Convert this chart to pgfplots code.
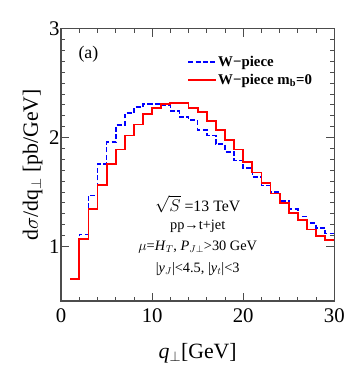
\documentclass[border=0pt]{standalone}
\usepackage{fontspec}
\setmainfont{Liberation Serif}
\usepackage{pgfplots}
\pgfplotsset{compat=1.18}
\begin{document}
\begin{tikzpicture}[x=1bp,y=1bp]
\begin{axis}[
  at={(0,0)}, anchor=south west,
  scale only axis, width=276bp, height=275bp,
  xmin=0, xmax=30, ymin=0.5, ymax=3,
  xtick={0,10,20,30}, minor x tick num=4,
  ytick={1,2,3}, minor y tick num=9,
  tick pos=both, tick align=inside,
  major tick length=8bp, minor tick length=4bp,
  axis line style={draw=black!70, line width=1.2bp},
  every tick/.style={draw=black!70, line width=0.9bp},
  /pgf/number format/assume math mode=true,
  ticklabel style={font=\fontsize{21bp}{23bp}\selectfont},
  xticklabel style={yshift=-4bp},
  yticklabel style={xshift=2bp},
  xlabel={\textit{q}$_\perp$[GeV]},
  ylabel={d$\sigma$/dq$_\perp$ [pb/GeV]},
  label style={font=\fontsize{22bp}{24bp}\selectfont},
  xlabel style={at={(axis description cs:0.5,0)}, anchor=base, yshift=-57.7bp},
  ylabel style={at={(axis description cs:-0.104,0.5)}, anchor=center},
  legend style={draw=none, fill=none, at={(axis description cs:0.461,0.905)}, anchor=north west,
    font=\fontsize{15bp}{17bp}\selectfont\bfseries, row sep=3bp, inner sep=0pt,
    nodes={inner sep=1.5bp}},
  legend cell align=left,
  legend image code/.code={\draw[#1] (0bp,0bp) -- (28bp,0bp);},
]
\addplot[const plot, blue, line width=1.6bp, dash pattern=on 5bp off 2.5bp] coordinates {
(1,0.70) (2,1.11) (3,1.47) (4,1.76) (5,1.957) (6,2.115) (7,2.227) (8,2.28) (9,2.31) (10,2.31)
(11,2.30) (12,2.245) (13,2.19) (14,2.16) (15,2.07) (16,2.02) (17,1.94) (18,1.87) (19,1.79) (20,1.72)
(21,1.64) (22,1.56) (23,1.50) (24,1.42) (25,1.345) (26,1.275) (27,1.215) (28,1.17) (29,1.12) (30,1.12)};
\addlegendentry{W−piece}
\addplot[const plot, red, line width=1.8bp] coordinates {
(1,0.70) (2,1.07) (3,1.347) (4,1.564) (5,1.76) (6,1.89) (7,2.02) (8,2.12) (9,2.22) (10,2.27)
(11,2.31) (12,2.317) (13,2.317) (14,2.27) (15,2.236) (16,2.15) (17,2.07) (18,1.98) (19,1.89) (20,1.777)
(21,1.68) (22,1.585) (23,1.487) (24,1.397) (25,1.307) (26,1.243) (27,1.157) (28,1.10) (29,1.06) (30,1.06)};
\addlegendentry{W−piece m\textsubscript{b}=0}
\node[font=\fontsize{18bp}{20bp}\selectfont] at (axis cs:3.0,2.77) {(a)};
\node[font=\fontsize{16bp}{18bp}\selectfont] at (axis cs:15,1.386) {$\sqrt{S}$ =13 TeV};
\node[font=\fontsize{14.5bp}{16bp}\selectfont] at (axis cs:15,1.187) {pp→t+jet};
\node[font=\fontsize{14.5bp}{16bp}\selectfont] at (axis cs:15,0.996) {$\mu$=\textit{H}$_T$, \textit{P}$_{J\perp}$>30 GeV};
\node[font=\fontsize{14.5bp}{16bp}\selectfont] at (axis cs:15,0.797) {|\textit{y}$_J$|<4.5, |\textit{y}$_t$|<3};
\end{axis}
\path (-61.7bp,-62bp) rectangle (304.3bp,304bp);
\end{tikzpicture}
\end{document}
